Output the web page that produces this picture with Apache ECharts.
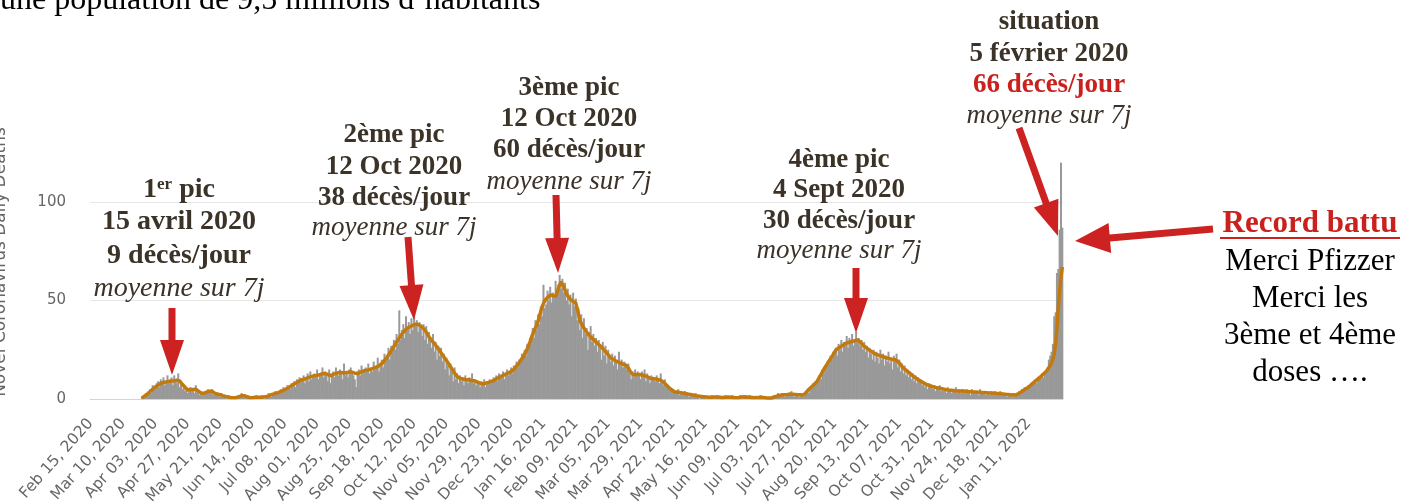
<!DOCTYPE html>
<html>
<head>
<meta charset="utf-8">
<title>Décès quotidiens</title>
<script src="https://cdn.jsdelivr.net/npm/echarts@6/dist/echarts.min.js"></script>
<style>
  body { margin: 0; background: #fff; }
  #main { width: 1419px; height: 504px; }
</style>
</head>
<body>
<div id="main"></div>
<script>
// first category of the x axis, one bar per day
var firstDay = Date.UTC(2020, 1, 15);
var monthNames = ["Jan", "Feb", "Mar", "Apr", "May", "Jun", "Jul", "Aug", "Sep", "Oct", "Nov", "Dec"];
var labelStep = 24;      // one date label every 24 days
var lastLabelDay = 696;  // Jan 11, 2022

// daily deaths (bars)
var dailyDeaths = [
  0, 0, 0, 0, 0, 0, 0, 0, 0, 0, 0, 0, 0, 0, 0, 0, 0, 0, 0,
  0, 0, 0, 0, 0, 0, 0, 0, 0, 0, 0, 0, 0, 0, 0, 0, 0, 0, 0,
  1, 1, 2, 3, 2, 4, 5, 3, 7, 6,
  5, 8, 9, 6, 10, 8, 11, 7, 9, 12,
  8, 10, 11, 7, 12, 9, 8, 13, 6, 9,
  5, 7, 4, 6, 3, 5, 6, 4, 5, 3,
  7, 4, 3, 2, 4, 2, 3, 4, 3, 5,
  4, 3, 5, 2, 3, 2, 3, 2, 1, 3,
  1, 2, 1, 0, 2, 1, 0, 1, 1, 0,
  1, 1, 2, 1, 3, 2, 1, 2, 1, 0,
  1, 0, 1, 1, 0, 2, 1, 0, 1, 2,
  1, 0, 2, 1, 3, 2, 1, 3, 2, 4,
  2, 4, 3, 5, 3, 6, 4, 5, 7, 6,
  5, 8, 7, 9, 6, 10, 8, 11, 9, 10,
  12, 8, 11, 13, 9, 14, 10, 12, 13, 11,
  15, 10, 13, 12, 16, 11, 14, 13, 9, 15,
  8, 12, 14, 11, 16, 13, 12, 15, 14, 10,
  18, 12, 14, 11, 15, 16, 13, 12, 10, 6,
  14, 15, 12, 17, 13, 15, 16, 14, 18, 13,
  16, 14, 19, 15, 17, 21, 14, 18, 20, 16,
  23, 19, 22, 26, 20, 27, 24, 30, 25, 33,
  28, 45, 30, 35, 38, 31, 42, 36, 39, 33,
  41, 35, 44, 37, 40, 34, 39, 36, 32, 38,
  30, 37, 28, 34, 30, 26, 33, 24, 29, 20,
  27, 22, 26, 19, 23, 15, 21, 17, 12, 18,
  14, 9, 16, 10, 13, 8, 12, 9, 11, 7,
  12, 10, 8, 11, 9, 13, 8, 10, 7, 9,
  8, 6, 9, 7, 10, 6, 9, 8, 10, 8,
  9, 11, 10, 12, 9, 13, 11, 12, 14, 10,
  13, 15, 12, 14, 16, 13, 17, 15, 19, 16,
  20, 18, 23, 21, 25, 22, 28, 26, 31, 29,
  36, 31, 40, 35, 43, 38, 47, 42, 58, 46,
  48, 55, 50, 57, 49, 54, 51, 60, 55, 58,
  63, 56, 61, 54, 59, 50, 56, 48, 53, 42,
  54, 47, 51, 40, 46, 35, 43, 31, 41, 33,
  36, 25, 34, 37, 29, 33, 27, 31, 24, 30,
  26, 20, 29, 22, 27, 18, 25, 21, 19, 23,
  17, 22, 19, 15, 24, 18, 20, 16, 19, 17,
  15, 18, 13, 10, 14, 11, 15, 12, 14, 13,
  10, 14, 12, 15, 9, 13, 11, 8, 12, 10,
  11, 9, 12, 10, 8, 13, 9, 7, 10, 6,
  7, 5, 6, 4, 5, 3, 4, 3, 5, 2,
  4, 3, 2, 4, 2, 3, 1, 3, 2, 2,
  1, 3, 1, 2, 0, 2, 1, 1, 2, 0,
  1, 1, 0, 2, 1, 0, 1, 2, 0, 1,
  1, 0, 1, 2, 1, 0, 1, 1, 2, 0,
  0, 1, 1, 0, 2, 1, 0, 2, 1, 1,
  1, 2, 0, 1, 1, 0, 1, 0, 1, 2,
  0, 1, 0, 1, 0, 1, 0, 0, 1, 2,
  1, 2, 3, 1, 2, 3, 2, 1, 3, 2,
  3, 2, 4, 2, 1, 3, 2, 3, 1, 2,
  2, 1, 3, 4, 5, 3, 6, 5, 8, 7,
  9, 8, 11, 12, 10, 15, 13, 17, 16, 19,
  18, 22, 20, 24, 23, 26, 22, 28, 25, 30,
  24, 29, 27, 32, 26, 31, 28, 33, 27, 30,
  34, 29, 31, 27, 30, 25, 29, 24, 27, 21,
  26, 23, 20, 25, 19, 24, 21, 18, 25, 20,
  23, 17, 22, 19, 24, 18, 21, 15, 22, 20,
  23, 16, 20, 14, 18, 13, 17, 12, 15, 11,
  14, 10, 13, 9, 12, 8, 11, 9, 10, 7,
  9, 6, 8, 5, 8, 6, 7, 5, 7, 4,
  6, 5, 7, 4, 6, 4, 5, 3, 6, 4,
  5, 3, 5, 4, 6, 3, 5, 4, 3, 5,
  4, 3, 5, 3, 4, 2, 5, 3, 4, 3,
  4, 2, 5, 3, 4, 3, 2, 4, 3, 2,
  4, 3, 2, 4, 3, 2, 3, 4, 2, 3,
  2, 3, 1, 3, 2, 2, 1, 3, 2, 3,
  3, 4, 3, 5, 4, 6, 5, 6, 7, 6,
  8, 7, 9, 10, 8, 11, 10, 12, 13, 11,
  14, 13, 16, 20, 22, 24, 28, 42, 44, 64,
  66, 86, 120, 87
];

// 7 day average (orange line)
var avg7 = [
  null, null, null, null, null, null, null, null, null, null, null, null, null, null, null, null, null, null, null,
  null, null, null, null, null, null, null, null, null, null, null, null, null, null, null, null, null, null, null,
  0.5, 1.0, 1.5, 2.0, 2.5, 3.0, 3.7, 4.3, 5.0, 5.6,
  6.1, 6.6, 7.0, 7.5, 7.9, 8.3, 8.4, 8.6, 8.7, 8.8,
  8.9, 9.0, 9.1, 9.2, 9.2, 9.3, 9.5, 9.6, 9.2, 8.5,
  7.5, 7.1, 6.0, 5.3, 4.6, 4.5, 4.8, 4.9, 4.8, 4.9,
  5.0, 4.5, 4.0, 3.4, 3.0, 3.0, 2.9, 3.2, 3.5, 3.8,
  3.9, 4.0, 3.9, 3.5, 3.0, 2.7, 2.5, 2.4, 2.2, 2.0,
  1.7, 1.5, 1.3, 1.1, 1.0, 0.9, 0.8, 0.8, 0.7, 0.7,
  0.8, 0.9, 1.1, 1.4, 1.7, 1.8, 1.7, 1.4, 1.1, 0.9,
  0.8, 0.7, 0.7, 0.8, 0.9, 1.0, 0.9, 0.8, 0.9, 1.0,
  1.0, 1.1, 1.1, 1.2, 1.6, 2.0, 2.2, 2.4, 2.6, 2.8,
  3.0, 3.3, 3.5, 3.7, 4.0, 4.3, 4.7, 5.0, 5.5, 5.9,
  6.3, 6.8, 7.2, 7.6, 8.0, 8.4, 8.8, 9.2, 9.6, 9.8,
  10.0, 10.3, 10.5, 10.8, 11.0, 11.3, 11.5, 11.6, 11.8, 11.9,
  12.0, 12.2, 12.4, 12.6, 12.8, 13.0, 12.9, 12.7, 12.5, 12.2,
  11.8, 12.1, 12.5, 12.8, 13.0, 13.2, 13.4, 13.5, 13.4, 13.3,
  13.2, 13.2, 13.4, 13.6, 13.8, 13.9, 13.6, 13.3, 13.1, 12.7,
  12.9, 13.2, 13.5, 13.8, 14.1, 14.4, 14.5, 14.7, 14.8, 15.0,
  15.2, 15.5, 15.7, 16.0, 16.2, 16.5, 16.9, 17.3, 18.0, 18.7,
  19.5, 20.4, 21.3, 22.3, 23.3, 24.4, 25.5, 26.7, 27.8, 29.0,
  30.0, 31.0, 32.0, 33.0, 34.0, 34.7, 35.4, 36.0, 36.4, 36.7,
  37.0, 37.4, 37.7, 38.0, 38.1, 37.8, 37.4, 37.0, 36.5, 35.8,
  35.0, 34.0, 32.8, 31.6, 30.7, 29.8, 29.0, 28.2, 27.4, 26.4,
  25.4, 24.5, 23.5, 22.5, 21.5, 20.5, 19.5, 18.5, 17.5, 16.4,
  15.3, 14.3, 13.2, 12.2, 11.3, 10.9, 10.6, 10.3, 10.1, 10.0,
  9.9, 9.9, 9.8, 9.7, 9.5, 9.4, 9.3, 9.1, 8.9, 8.6,
  8.3, 8.0, 7.8, 7.6, 7.8, 8.0, 8.2, 8.4, 8.6, 8.8,
  9.1, 9.4, 9.8, 10.2, 10.6, 11.0, 11.3, 11.6, 12.0, 12.3,
  12.6, 12.9, 13.3, 13.6, 13.9, 14.5, 15.1, 15.8, 16.6, 17.3,
  18.4, 19.5, 20.5, 21.5, 22.8, 24.1, 25.5, 27.2, 29.0, 31.0,
  33.0, 34.5, 36.0, 37.5, 39.5, 42.0, 44.5, 46.9, 48.5, 50.0,
  50.5, 51.5, 52.3, 52.8, 52.7, 52.5, 52.2, 52.0, 54.0, 56.0,
  58.0, 59.5, 58.3, 57.0, 55.3, 53.5, 52.3, 51.3, 50.5, 50.0,
  49.6, 49.2, 48.7, 46.0, 43.0, 40.0, 38.5, 37.3, 36.0, 35.0,
  34.0, 33.0, 32.2, 31.5, 30.9, 30.3, 29.6, 29.0, 28.3, 27.6,
  27.0, 26.3, 25.6, 24.9, 24.1, 23.3, 22.5, 21.7, 20.8, 20.4,
  20.0, 19.6, 19.2, 18.9, 18.6, 18.3, 18.0, 17.8, 17.5, 17.2,
  16.8, 15.6, 14.5, 13.4, 12.8, 12.2, 12.3, 12.5, 12.5, 12.4,
  12.3, 12.2, 12.2, 11.9, 11.6, 11.3, 10.9, 10.6, 10.5, 10.4,
  10.3, 10.2, 10.0, 9.9, 9.7, 9.6, 9.2, 8.6, 8.0, 7.2,
  6.3, 5.8, 5.3, 4.8, 4.2, 3.7, 3.6, 3.5, 3.4, 3.3,
  3.2, 3.1, 3.0, 2.8, 2.6, 2.5, 2.4, 2.3, 2.1, 2.0,
  1.9, 1.7, 1.6, 1.5, 1.4, 1.3, 1.2, 1.1, 1.1, 1.0,
  1.0, 0.9, 0.9, 0.9, 1.0, 1.0, 1.1, 1.0, 0.9, 0.9,
  0.8, 0.8, 0.9, 0.9, 1.0, 1.0, 1.0, 0.9, 0.9, 0.8,
  0.8, 0.7, 0.7, 0.8, 0.9, 1.0, 1.0, 1.1, 1.1, 1.0,
  1.0, 0.9, 0.9, 0.8, 0.8, 0.7, 0.7, 0.7, 0.8, 0.9,
  0.9, 0.8, 0.7, 0.6, 0.5, 0.5, 0.4, 0.5, 0.6, 0.9,
  1.2, 1.4, 1.6, 1.8, 2.0, 2.1, 2.1, 2.2, 2.2, 2.3,
  2.4, 2.5, 2.5, 2.4, 2.3, 2.3, 2.3, 2.2, 2.2, 2.1,
  2.0, 2.0, 2.7, 3.5, 4.2, 4.9, 5.6, 6.2, 6.9, 7.5,
  8.2, 8.9, 9.6, 11.3, 12.5, 13.8, 15.0, 16.1, 17.2, 18.3,
  19.4, 20.4, 21.5, 22.6, 23.8, 24.9, 25.4, 25.9, 26.4, 26.8,
  27.2, 27.6, 28.0, 28.4, 28.6, 28.8, 29.0, 29.2, 29.4, 29.6,
  29.8, 30.0, 29.5, 29.0, 28.2, 27.4, 26.9, 26.3, 25.8, 25.2,
  24.7, 24.3, 23.8, 23.3, 23.0, 22.7, 22.4, 22.1, 21.9, 21.7,
  21.4, 21.2, 21.0, 20.8, 20.6, 20.5, 20.3, 20.1, 20.0, 19.9,
  19.8, 19.0, 18.3, 17.5, 16.6, 15.7, 15.2, 14.6, 14.0, 13.5,
  13.0, 12.4, 11.9, 11.3, 10.8, 10.3, 9.8, 9.4, 9.0, 8.6,
  8.1, 7.8, 7.5, 7.2, 7.0, 6.7, 6.5, 6.3, 6.1, 5.9,
  5.8, 5.6, 5.4, 5.3, 5.1, 5.0, 4.9, 4.7, 4.6, 4.5,
  4.4, 4.4, 4.3, 4.2, 4.2, 4.1, 4.1, 4.0, 4.0, 4.0,
  3.9, 3.9, 3.8, 3.8, 3.8, 3.7, 3.7, 3.6, 3.6, 3.5,
  3.5, 3.4, 3.4, 3.3, 3.3, 3.3, 3.2, 3.2, 3.1, 3.1,
  3.1, 3.0, 3.0, 2.9, 2.9, 2.8, 2.8, 2.7, 2.6, 2.6,
  2.5, 2.4, 2.3, 2.3, 2.2, 2.1, 2.1, 2.0, 2.1, 2.2,
  2.5, 2.9, 3.3, 3.8, 4.3, 4.8, 5.2, 5.6, 6.2, 6.7,
  7.3, 7.9, 8.5, 9.1, 9.6, 10.2, 10.8, 11.4, 12.0, 12.7,
  13.4, 14.0, 14.7, 15.9, 17.1, 18.3, 20.0, 23.0, 28.0, 36.0,
  46.0, 55.0, 62.0, 67.0
];

var yTicks = [0, 50, 100];

// annotation blocks: centre x, line centres y, font size, lines, kind of each line
var notes = [
  { cx: 179, ys: [190, 222, 256, 289], size: 28,
    lines: ["1er pic", "15 avril 2020", "9 décès/jour", "moyenne sur 7j"], kinds: ["sup", "b", "b", "i"] },
  { cx: 394, ys: [135, 167, 198, 228], size: 27,
    lines: ["2ème pic", "12 Oct 2020", "38 décès/jour", "moyenne sur 7j"], kinds: ["b", "b", "b", "i"] },
  { cx: 569, ys: [88, 119, 150, 182], size: 27,
    lines: ["3ème pic", "12 Oct 2020", "60 décès/jour", "moyenne sur 7j"], kinds: ["b", "b", "b", "i"] },
  { cx: 839, ys: [160, 190, 221, 251], size: 27,
    lines: ["4ème pic", "4 Sept 2020", "30 décès/jour", "moyenne sur 7j"], kinds: ["b", "b", "b", "i"] },
  { cx: 1049, ys: [22, 54, 85, 116], size: 27,
    lines: ["situation", "5 février 2020", "66 décès/jour", "moyenne sur 7j"], kinds: ["b", "b", "red", "i"] },
  { cx: 1310, ys: [224, 262, 299, 336, 373], size: 31,
    lines: ["Record battu", "Merci Pfizzer", "Merci les", "3ème et 4ème", "doses …."], kinds: ["redu", "r", "r", "r", "r"] }
];

// arrows: start x, start y, tip x, tip y, half width of the head
var arrows = [
  [172, 308, 172, 375, 12],
  [408, 237, 414, 320, 12],
  [556, 195, 558, 273, 12],
  [856, 268, 856, 333, 12],
  [1019, 128, 1058, 236, 13],
  [1213, 229, 1075, 241, 15]
];

var dark = "#3b3228";
var red = "#c9211e";
var arrowRed = "#cc2222";
var serif = '"Liberation Serif", "Times New Roman", serif';
var sans = '"DejaVu Sans", Verdana, sans-serif';

var categories = [];
for (var i = 0; i < dailyDeaths.length; i++) {
  var d = new Date(firstDay + i * 86400000);
  var dd = d.getUTCDate();
  categories.push(monthNames[d.getUTCMonth()] + " " + (dd < 10 ? "0" + dd : dd) + ", " + d.getUTCFullYear());
}

var graphics = [];

arrows.forEach(function (a) {
  var dx = a[2] - a[0], dy = a[3] - a[1];
  var len = Math.sqrt(dx * dx + dy * dy);
  var ux = dx / len, uy = dy / len;
  var headLen = 35, hw = a[4];
  var bx = a[2] - ux * headLen, by = a[3] - uy * headLen;
  graphics.push({
    type: "line",
    shape: { x1: a[0], y1: a[1], x2: bx + ux * 3, y2: by + uy * 3 },
    style: { stroke: arrowRed, lineWidth: 7 },
    z: 100
  });
  graphics.push({
    type: "polygon",
    shape: { points: [[a[2], a[3]], [bx - uy * hw, by + ux * hw], [bx + uy * hw, by - ux * hw]] },
    style: { fill: arrowRed },
    z: 100
  });
});

notes.forEach(function (n) {
  n.lines.forEach(function (txt, k) {
    var kind = n.kinds[k];
    var st = {
      text: txt,
      fill: dark,
      font: "bold " + n.size + "px " + serif,
      align: "center", verticalAlign: "middle",
      textAlign: "center", textVerticalAlign: "middle"
    };
    if (kind === "i") st.font = "italic " + n.size + "px " + serif;
    if (kind === "red") st.fill = red;
    if (kind === "r") { st.fill = "#000"; st.font = n.size + "px " + serif; }
    if (kind === "redu") st.fill = red;
    if (kind === "sup") {
      st.text = "{n|1}{s|er}{n| pic}";
      st.rich = {
        n: { font: "bold " + n.size + "px " + serif, fill: dark },
        s: { font: "bold 17px " + serif, fill: dark, verticalAlign: "top" }
      };
    }
    graphics.push({ type: "text", x: n.cx, y: n.ys[k], style: st, z: 100 });
    if (kind === "redu") {
      graphics.push({
        type: "line",
        shape: { x1: n.cx - 90, y1: n.ys[k] + 14, x2: n.cx + 90, y2: n.ys[k] + 14 },
        style: { stroke: red, lineWidth: 2 },
        z: 100
      });
    }
  });
});

// text cut by the top edge of the picture
graphics.push({
  type: "text", x: 0, y: 1,
  style: {
    text: "une population de 9,5 millions d’habitants",
    font: "32px " + serif, fill: "#000",
    align: "left", verticalAlign: "middle", textAlign: "left", textVerticalAlign: "middle"
  }
});

// y axis title, partly outside the picture on the left
graphics.push({
  type: "text", x: 1, y: 262, rotation: Math.PI / 2,
  style: {
    text: "Novel Coronavirus Daily Deaths",
    font: "17px " + sans, fill: "#666",
    align: "center", verticalAlign: "middle", textAlign: "center", textVerticalAlign: "middle"
  }
});

var myChart = echarts.init(document.getElementById("main"));
var option = {
  animation: false,
  backgroundColor: "#fff",
  grid: { left: 90, right: 356, top: 202, bottom: 105, containLabel: false, outerBoundsMode: "none" },
  xAxis: {
    type: "category",
    data: categories,
    axisLine: { lineStyle: { color: "#ccd6eb", width: 1 } },
    axisTick: { show: false },
    axisLabel: {
      interval: function (idx) {
        return idx % labelStep === 0 && idx <= lastLabelDay;
      },
      rotate: 48,
      margin: 22,
      color: "#666",
      fontSize: 15.5,
      fontFamily: sans
    }
  },
  yAxis: {
    type: "value",
    min: yTicks[0],
    max: yTicks[yTicks.length - 1],
    interval: 50,
    axisLine: { show: false },
    axisTick: { show: false },
    axisLabel: {
      margin: 24,
      color: "#666",
      fontSize: 15,
      fontFamily: sans
    },
    splitLine: { lineStyle: { color: "#e6e6e6", width: 1 } }
  },
  series: [
    {
      type: "bar",
      data: dailyDeaths,
      barWidth: 2,
      clip: false,
      itemStyle: { color: "#999999" }
    },
    {
      type: "line",
      data: avg7,
      symbol: "none",
      clip: false,
      z: 5,
      lineStyle: { color: "#c27a0e", width: 3.5 }
    }
  ],
  graphic: { elements: graphics }
};

option && myChart.setOption(option);
</script>
</body>
</html>
